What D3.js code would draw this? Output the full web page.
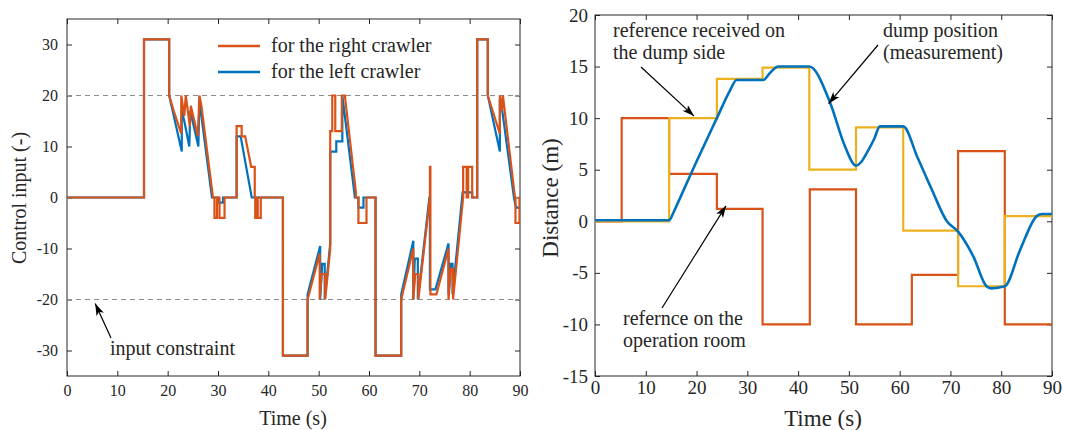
<!DOCTYPE html>
<html>
<head>
<meta charset="utf-8">
<script src="https://cdn.jsdelivr.net/npm/d3@7"></script>
<style>
  html, body { margin: 0; padding: 0; background: #fff; }
  svg { display: block; }
  text { font-family: "Liberation Serif", "Times New Roman", serif; fill: #262626; }
</style>
</head>
<body>
<script>
// ---------------- DATA ----------------
const timeTicks = [0, 10, 20, 30, 40, 50, 60, 70, 80, 90];
const controlTicks = [-30, -20, -10, 0, 10, 20, 30];
const distanceTicks = [-15, -10, -5, 0, 5, 10, 15, 20];
const constraintLevels = [20, -20];

// Left panel: control input for the right crawler [time, value]
const rightCrawler = [
  [0,0],[15.3,0],[15.3,31],[20.3,31],[20.3,20],[21.2,17],[22.7,12.5],[22.7,20],[23.3,16],[23.6,20],
  [24.4,14],[24.6,18],[26.0,12],[26.3,20],[26.7,18],[29.0,0],[29.3,0],[29.3,-4],[29.8,-4],
  [29.8,0],[30.3,0],[30.3,-4],[31.3,-4],[31.3,0],[33.7,0],[33.7,14],[34.7,14],[34.7,12],
  [35.4,12],[36.6,6],[37.3,6],[37.3,0],[37.4,0],[37.4,-4],[37.7,-4],[37.7,0],[37.9,0],
  [37.9,-4],[38.5,-4],[38.5,0],[42.9,0],[42.9,-31],[47.8,-31],[47.8,-20],[50.2,-11],
  [50.2,-20],[50.6,-15],[51.3,-15],[51.3,-20],[52.3,-10],[52.3,13],[52.7,13],[52.7,20],
  [53.3,20],[53.3,13],[54.6,13],[54.6,20],[55.2,20],[57.4,1],[57.4,0],[57.9,0],[57.9,-5],
  [59.5,-5],[59.5,0],[61.3,0],[61.3,-31],[66.4,-31],[66.4,-20],[68.8,-10],[68.8,-20],
  [69.2,-15],[69.8,-15],[69.8,-20],[72.1,0],[72.1,6],[72.2,6],[72.2,-19],[73.4,-19],
  [75.8,-10],[75.8,-20],[76.3,-14],[76.7,-14],[76.7,-20],[78.7,0],[78.7,6],[79.4,6],
  [79.4,0],[79.7,0],[79.7,6],[80.5,6],[80.5,0],[81.5,0],[81.5,31],[83.6,31],[83.6,20],
  [86.0,12.5],[86.0,20],[86.4,17],[86.6,20],[89.0,0],[89.1,0],[89.1,-5],[89.9,-5],[89.9,0],[90,0]
];
// Left panel: control input for the left crawler [time, value]
const leftCrawler = [
  [0,0],[15.3,0],[15.3,31],[20.3,31],[20.3,20],[22.8,9],[22.8,17],[23.3,15],[24.3,10],
  [24.5,17],[26.1,10],[26.3,19],[28.8,0],[30.0,0],[30.0,-1],[31.0,-1],[31.0,0],[33.7,0],
  [33.7,12],[34.5,12],[36.7,0],[42.9,0],[42.9,-31],[47.8,-31],[47.8,-19],[50.3,-9.5],
  [50.3,-20],[50.7,-13],[51.2,-13],[51.2,-20],[52.3,-9],[52.3,9],[53.5,9],[53.5,11],
  [54.7,11],[54.7,20],[57.2,0],[57.9,0],[57.9,-2],[58.9,-2],[58.9,0],[61.3,0],[61.3,-31],
  [66.4,-31],[66.4,-19],[68.8,-8.5],[68.8,-20],[69.1,-12],[69.7,-12],[69.7,-20],[72.0,0],
  [72.1,0],[72.1,-18],[73.2,-18],[75.8,-9],[75.8,-19],[76.2,-13],[76.6,-13],[76.6,-19],
  [78.6,1],[80.5,1],[80.5,0],[81.5,0],[81.5,31],[83.6,31],[83.6,20],[86.0,9],[86.0,19],
  [86.2,19],[88.8,0],[89.2,-2],[90,-2]
];

// Right panel: reference on the operation room (step after)
const opRoomT = [0, 5.25, 14.6, 24.0, 33.0, 42.3, 51.4, 62.4, 71.5, 80.7, 90];
const opRoomV = [0, 10, 4.6, 1.2, -10, 3.1, -10, -5.2, 6.8, -10, -10];
// Right panel: reference received on the dump side (step after)
const dumpRefT = [0, 14.6, 24.0, 33.0, 42.2, 51.4, 60.7, 71.5, 80.7, 90];
const dumpRefV = [0, 10, 13.8, 14.9, 5.0, 9.1, -0.9, -6.3, 0.5, 0.5];
// Right panel: dump position (measurement)
const dumpPosT = [0, 14.6, 15.5, 16.7, 20, 24, 26.5, 27.9, 33.1, 34.5, 36.1, 42.2, 46.3, 49.2, 51.4,
  52.5, 53.5, 55, 56.1, 60.7, 63.5, 66.3, 69.3, 71.5, 74.5, 77.1, 78, 80.7, 83.7, 87, 88, 90];
const dumpPosV = [0.1, 0.1, 0.9, 2.2, 5.8, 10, 12.6, 13.7, 13.7, 14.4, 15, 15, 11.5, 7.3, 5.4,
  5.8, 6.6, 8, 9.2, 9.2, 6.2, 3.1, 0, -1.0, -3.4, -6.3, -6.5, -6.3, -2.8, 0.5, 0.7, 0.7];

const legendLabels = ["for the right crawler", "for the left crawler"];

// ---------------- STYLE ----------------
const RED = "#D95319", BLUE = "#0072BD", YEL = "#EDB120", AX = "#262626";

const svg = d3.select("body").append("svg").attr("width", 1065).attr("height", 430);

const defs = svg.append("defs");
defs.append("marker").attr("id", "arr").attr("viewBox", "0 0 12 8")
  .attr("refX", 12).attr("refY", 4).attr("markerWidth", 12).attr("markerHeight", 8)
  .attr("markerUnits", "userSpaceOnUse").attr("orient", "auto")
  .append("path").attr("d", "M0,0 L12,4 L0,8 L3,4 Z").attr("fill", "#000");

const fmt = d => String(d);

function panel(opts) {
  const { x, y, id, xt, yt, fs, padX, padY } = opts;
  const g = svg.append("g");
  const [x0, x1] = x.range(), [y0, y1] = y.range();
  defs.append("clipPath").attr("id", id).append("rect")
    .attr("x", x0).attr("y", y1).attr("width", x1 - x0).attr("height", y0 - y1);

  const styleAxis = sel => {
    sel.select(".domain").remove();
    sel.selectAll("line").attr("stroke", AX).attr("stroke-width", 1);
    sel.selectAll("text").style("font-size", fs + "px").attr("fill", AX)
      .style("font-family", '"Liberation Serif", serif');
  };
  g.append("g").attr("transform", `translate(0,${y0})`)
    .call(d3.axisBottom(x).tickValues(xt).tickFormat(fmt).tickSizeInner(-5).tickSizeOuter(0).tickPadding(padX))
    .call(styleAxis);
  g.append("g").attr("transform", `translate(0,${y1})`)
    .call(d3.axisTop(x).tickValues(xt).tickSizeInner(-5).tickSizeOuter(0).tickFormat(""))
    .call(styleAxis);
  g.append("g").attr("transform", `translate(${x0},0)`)
    .call(d3.axisLeft(y).tickValues(yt).tickFormat(fmt).tickSizeInner(-5).tickSizeOuter(0).tickPadding(padY))
    .call(styleAxis);
  g.append("g").attr("transform", `translate(${x1},0)`)
    .call(d3.axisRight(y).tickValues(yt).tickSizeInner(-5).tickSizeOuter(0).tickFormat(""))
    .call(styleAxis);
  g.append("rect").attr("x", x0).attr("y", y1).attr("width", x1 - x0).attr("height", y0 - y1)
    .attr("fill", "none").attr("stroke", AX).attr("stroke-width", 1);
  const plot = svg.append("g").attr("clip-path", `url(#${id})`);
  return plot;
}

// ---------------- LEFT PANEL ----------------
const xL = d3.scaleLinear().domain([0, 90]).range([67, 520]);
const yL = d3.scaleLinear().domain([-35, 35]).range([376, 19]);
const plotL = panel({ x: xL, y: yL, id: "clipL", xt: timeTicks, yt: controlTicks, fs: 16, padX: 9, padY: 9 });

plotL.selectAll("line.constraint").data(constraintLevels).join("line")
  .attr("x1", xL(0)).attr("x2", xL(90)).attr("y1", d => yL(d)).attr("y2", d => yL(d))
  .attr("stroke", "#8c8c8c").attr("stroke-width", 1).attr("stroke-dasharray", "5,4");

const lineL = d3.line().x(d => xL(d[0])).y(d => yL(d[1]));
plotL.append("path").datum(leftCrawler).attr("d", lineL)
  .attr("fill", "none").attr("stroke", BLUE).attr("stroke-width", 2.2).attr("stroke-linejoin", "miter");
plotL.append("path").datum(rightCrawler).attr("d", lineL)
  .attr("fill", "none").attr("stroke", RED).attr("stroke-width", 2.2).attr("stroke-linejoin", "miter");

// legend
[RED, BLUE].forEach((c, i) => {
  const yy = 46 + i * 26;
  svg.append("line").attr("x1", 218).attr("x2", 260).attr("y1", yy).attr("y2", yy)
    .attr("stroke", c).attr("stroke-width", 2.5);
  svg.append("text").attr("x", 271).attr("y", yy + 6).style("font-size", "20px").text(legendLabels[i]);
});

// axis titles
svg.append("text").attr("x", 293).attr("y", 425).attr("text-anchor", "middle")
  .style("font-size", "20px").text("Time (s)");
svg.append("text").attr("transform", "translate(26,198) rotate(-90)").attr("text-anchor", "middle")
  .style("font-size", "20px").text("Control input (-)");

// annotation
svg.append("text").attr("x", 110).attr("y", 355).style("font-size", "20px").text("input constraint");
svg.append("line").attr("x1", 111).attr("y1", 338).attr("x2", xL(5.6)).attr("y2", yL(-20.8))
  .attr("stroke", "#000").attr("stroke-width", 1.2).attr("marker-end", "url(#arr)");

// ---------------- RIGHT PANEL ----------------
const xR = d3.scaleLinear().domain([0, 90]).range([595, 1052]);
const yR = d3.scaleLinear().domain([-15, 20]).range([376, 15]);
const plotR = panel({ x: xR, y: yR, id: "clipR", xt: timeTicks, yt: distanceTicks, fs: 19, padX: 5, padY: 7 });

const stepLine = d3.line().x(d => xR(d[0])).y(d => yR(d[1])).curve(d3.curveStepAfter);
const smoothLine = d3.line().x(d => xR(d[0])).y(d => yR(d[1])).curve(d3.curveMonotoneX);

plotR.append("path").datum(d3.zip(opRoomT, opRoomV)).attr("d", stepLine)
  .attr("fill", "none").attr("stroke", RED).attr("stroke-width", 2.2);
plotR.append("path").datum(d3.zip(dumpRefT, dumpRefV)).attr("d", stepLine)
  .attr("fill", "none").attr("stroke", YEL).attr("stroke-width", 2.2);
plotR.append("path").datum(d3.zip(dumpPosT, dumpPosV)).attr("d", smoothLine)
  .attr("fill", "none").attr("stroke", BLUE).attr("stroke-width", 2.6);

svg.append("text").attr("x", 823).attr("y", 426).attr("text-anchor", "middle")
  .style("font-size", "23px").text("Time (s)");
svg.append("text").attr("transform", "translate(558,198) rotate(-90)").attr("text-anchor", "middle")
  .style("font-size", "23px").text("Distance (m)");

// annotations
const ann = [
  { x: 613, y: 37, t: "reference received on" },
  { x: 613, y: 59, t: "the dump side" },
  { x: 883, y: 37, t: "dump position" },
  { x: 883, y: 59, t: "(measurement)" },
  { x: 623, y: 325, t: "refernce on the" },
  { x: 623, y: 347, t: "operation room" }
];
svg.selectAll("text.ann").data(ann).join("text").attr("class", "ann")
  .attr("x", d => d.x).attr("y", d => d.y).style("font-size", "20px").text(d => d.t);

const arrows = [
  [641, 67, xR(19.5), yR(10.2)],
  [878, 45, xR(46.0), yR(11.4)],
  [662, 308, xR(25.8), yR(1.5)]
];
svg.selectAll("line.arrow").data(arrows).join("line").attr("class", "arrow")
  .attr("x1", d => d[0]).attr("y1", d => d[1]).attr("x2", d => d[2]).attr("y2", d => d[3])
  .attr("stroke", "#000").attr("stroke-width", 1.2).attr("marker-end", "url(#arr)");
</script>
</body>
</html>
